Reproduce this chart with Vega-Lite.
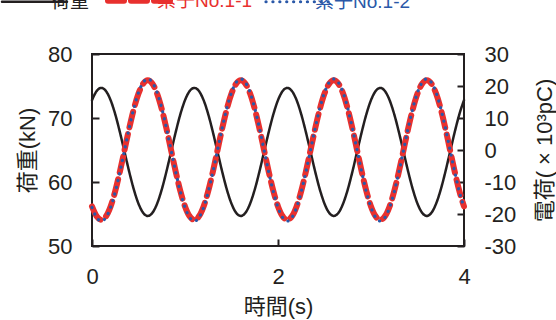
{
  "$schema": "https://vega.github.io/schema/vega-lite/v6.json",
  "width": 372,
  "height": 192,
  "autosize": "none",
  "padding": {"left": 92, "top": 54, "right": 92, "bottom": 74},
  "config": {
    "font": "Liberation Sans, Noto Sans CJK JP, sans-serif",
    "view": {"stroke": "#231f20", "strokeWidth": 2},
    "axis": {
      "grid": false,
      "domain": false,
      "tickSize": -7,
      "tickWidth": 2,
      "tickColor": "#231f20",
      "labelFontSize": 22,
      "labelColor": "#231f20",
      "labelPadding": 27,
      "labelFlush": false,
      "labelOverlap": false,
      "titleFontSize": 22,
      "titleFontWeight": "normal",
      "titleColor": "#231f20"
    }
  },
  "data": {
    "values": [
      {"t": 0, "load": 72.79, "c1": -17.64, "c2": -17.96},
      {"t": 0.05, "load": 74.21, "c1": -20.73, "c2": -21.11},
      {"t": 0.1, "load": 74.7, "c1": -21.8, "c2": -22.2},
      {"t": 0.15, "load": 74.21, "c1": -20.73, "c2": -21.11},
      {"t": 0.2, "load": 72.79, "c1": -17.64, "c2": -17.96},
      {"t": 0.25, "load": 70.58, "c1": -12.82, "c2": -13.05},
      {"t": 0.3, "load": 67.79, "c1": -6.74, "c2": -6.86},
      {"t": 0.35, "load": 64.7, "c1": 0, "c2": 0},
      {"t": 0.4, "load": 61.61, "c1": 6.74, "c2": 6.86},
      {"t": 0.45, "load": 58.82, "c1": 12.82, "c2": 13.05},
      {"t": 0.5, "load": 56.61, "c1": 17.64, "c2": 17.96},
      {"t": 0.55, "load": 55.19, "c1": 20.73, "c2": 21.11},
      {"t": 0.6, "load": 54.7, "c1": 21.8, "c2": 22.2},
      {"t": 0.65, "load": 55.19, "c1": 20.73, "c2": 21.11},
      {"t": 0.7, "load": 56.61, "c1": 17.64, "c2": 17.96},
      {"t": 0.75, "load": 58.82, "c1": 12.82, "c2": 13.05},
      {"t": 0.8, "load": 61.61, "c1": 6.74, "c2": 6.86},
      {"t": 0.85, "load": 64.7, "c1": 0, "c2": 0},
      {"t": 0.9, "load": 67.79, "c1": -6.74, "c2": -6.86},
      {"t": 0.95, "load": 70.58, "c1": -12.82, "c2": -13.05},
      {"t": 1, "load": 72.79, "c1": -17.64, "c2": -17.96},
      {"t": 1.05, "load": 74.21, "c1": -20.73, "c2": -21.11},
      {"t": 1.1, "load": 74.7, "c1": -21.8, "c2": -22.2},
      {"t": 1.15, "load": 74.21, "c1": -20.73, "c2": -21.11},
      {"t": 1.2, "load": 72.79, "c1": -17.64, "c2": -17.96},
      {"t": 1.25, "load": 70.58, "c1": -12.82, "c2": -13.05},
      {"t": 1.3, "load": 67.79, "c1": -6.74, "c2": -6.86},
      {"t": 1.35, "load": 64.7, "c1": 0, "c2": 0},
      {"t": 1.4, "load": 61.61, "c1": 6.74, "c2": 6.86},
      {"t": 1.45, "load": 58.82, "c1": 12.82, "c2": 13.05},
      {"t": 1.5, "load": 56.61, "c1": 17.64, "c2": 17.96},
      {"t": 1.55, "load": 55.19, "c1": 20.73, "c2": 21.11},
      {"t": 1.6, "load": 54.7, "c1": 21.8, "c2": 22.2},
      {"t": 1.65, "load": 55.19, "c1": 20.73, "c2": 21.11},
      {"t": 1.7, "load": 56.61, "c1": 17.64, "c2": 17.96},
      {"t": 1.75, "load": 58.82, "c1": 12.82, "c2": 13.05},
      {"t": 1.8, "load": 61.61, "c1": 6.74, "c2": 6.86},
      {"t": 1.85, "load": 64.7, "c1": 0, "c2": 0},
      {"t": 1.9, "load": 67.79, "c1": -6.74, "c2": -6.86},
      {"t": 1.95, "load": 70.58, "c1": -12.82, "c2": -13.05},
      {"t": 2, "load": 72.79, "c1": -17.64, "c2": -17.96},
      {"t": 2.05, "load": 74.21, "c1": -20.73, "c2": -21.11},
      {"t": 2.1, "load": 74.7, "c1": -21.8, "c2": -22.2},
      {"t": 2.15, "load": 74.21, "c1": -20.73, "c2": -21.11},
      {"t": 2.2, "load": 72.79, "c1": -17.64, "c2": -17.96},
      {"t": 2.25, "load": 70.58, "c1": -12.82, "c2": -13.05},
      {"t": 2.3, "load": 67.79, "c1": -6.74, "c2": -6.86},
      {"t": 2.35, "load": 64.7, "c1": 0, "c2": 0},
      {"t": 2.4, "load": 61.61, "c1": 6.74, "c2": 6.86},
      {"t": 2.45, "load": 58.82, "c1": 12.82, "c2": 13.05},
      {"t": 2.5, "load": 56.61, "c1": 17.64, "c2": 17.96},
      {"t": 2.55, "load": 55.19, "c1": 20.73, "c2": 21.11},
      {"t": 2.6, "load": 54.7, "c1": 21.8, "c2": 22.2},
      {"t": 2.65, "load": 55.19, "c1": 20.73, "c2": 21.11},
      {"t": 2.7, "load": 56.61, "c1": 17.64, "c2": 17.96},
      {"t": 2.75, "load": 58.82, "c1": 12.82, "c2": 13.05},
      {"t": 2.8, "load": 61.61, "c1": 6.74, "c2": 6.86},
      {"t": 2.85, "load": 64.7, "c1": 0, "c2": 0},
      {"t": 2.9, "load": 67.79, "c1": -6.74, "c2": -6.86},
      {"t": 2.95, "load": 70.58, "c1": -12.82, "c2": -13.05},
      {"t": 3, "load": 72.79, "c1": -17.64, "c2": -17.96},
      {"t": 3.05, "load": 74.21, "c1": -20.73, "c2": -21.11},
      {"t": 3.1, "load": 74.7, "c1": -21.8, "c2": -22.2},
      {"t": 3.15, "load": 74.21, "c1": -20.73, "c2": -21.11},
      {"t": 3.2, "load": 72.79, "c1": -17.64, "c2": -17.96},
      {"t": 3.25, "load": 70.58, "c1": -12.82, "c2": -13.05},
      {"t": 3.3, "load": 67.79, "c1": -6.74, "c2": -6.86},
      {"t": 3.35, "load": 64.7, "c1": 0, "c2": 0},
      {"t": 3.4, "load": 61.61, "c1": 6.74, "c2": 6.86},
      {"t": 3.45, "load": 58.82, "c1": 12.82, "c2": 13.05},
      {"t": 3.5, "load": 56.61, "c1": 17.64, "c2": 17.96},
      {"t": 3.55, "load": 55.19, "c1": 20.73, "c2": 21.11},
      {"t": 3.6, "load": 54.7, "c1": 21.8, "c2": 22.2},
      {"t": 3.65, "load": 55.19, "c1": 20.73, "c2": 21.11},
      {"t": 3.7, "load": 56.61, "c1": 17.64, "c2": 17.96},
      {"t": 3.75, "load": 58.82, "c1": 12.82, "c2": 13.05},
      {"t": 3.8, "load": 61.61, "c1": 6.74, "c2": 6.86},
      {"t": 3.85, "load": 64.7, "c1": 0, "c2": 0},
      {"t": 3.9, "load": 67.79, "c1": -6.74, "c2": -6.86},
      {"t": 3.95, "load": 70.58, "c1": -12.82, "c2": -13.05},
      {"t": 4, "load": 72.79, "c1": -17.64, "c2": -17.96}
    ]
  },
  "layer": [
    {
      "mark": {"type": "line", "interpolate": "monotone", "strokeCap": "round", "strokeWidth": 2.5},
      "encoding": {
        "x": {
          "field": "t", "type": "quantitative",
          "scale": {"domain": [0, 4], "nice": false},
          "axis": {"values": [0, 2, 4], "format": "d", "title": "時間(s)", "titlePadding": 9}
        },
        "y": {
          "field": "load", "type": "quantitative",
          "scale": {"domain": [50, 80], "nice": false},
          "axis": {"orient": "left", "values": [50, 60, 70, 80], "title": "荷重(kN)", "titlePadding": 8}
        },
        "color": {
          "datum": "荷重", "type": "nominal",
          "scale": {"domain": ["荷重", "素子No.1-1", "素子No.1-2"], "range": ["#231f20", "#e8302e", "#2a58a8"]},
          "legend": {
            "orient": "none", "legendX": -67, "legendY": -63,
            "direction": "horizontal", "title": null,
            "symbolType": "stroke", "symbolSize": 4225,
            "labelFontSize": 19, "labelOffset": 7, "columnPadding": 6, "padding": 0,
            "encode": {
              "symbols": {"update": {
                "strokeCap": {"value": "round"},
                "strokeWidth": {"signal": "datum.value === '荷重' ? 2.5 : datum.value === '素子No.1-1' ? 6 : 3.2"}
              }},
              "labels": {"update": {"fill": {"signal": "datum.value === '荷重' ? '#231f20' : datum.value === '素子No.1-1' ? '#e8302e' : '#2a58a8'"}}}
            }
          }
        },
        "strokeDash": {
          "datum": "荷重", "type": "nominal",
          "scale": {"domain": ["荷重", "素子No.1-1", "素子No.1-2"], "range": [[1, 0], [16, 7], [0.1, 6.8]]}
        }
      }
    },
    {
      "encoding": {
        "x": {"field": "t", "type": "quantitative", "scale": {"domain": [0, 4], "nice": false}}
      },
      "layer": [
        {
          "mark": {"type": "line", "interpolate": "monotone", "strokeCap": "round", "strokeWidth": 6},
          "encoding": {
            "y": {
              "field": "c1", "type": "quantitative",
              "scale": {"domain": [-30, 30], "nice": false},
              "axis": {
                "orient": "right", "values": [-30, -20, -10, 0, 10, 20, 30],
                "labelExpr": "'' + datum.value", "labelOverlap": false, "labelFlush": false,
                "title": "電荷( × 10³pC)", "titleAngle": 270, "titlePadding": 41
              }
            },
            "color": {"datum": "素子No.1-1", "type": "nominal"},
            "strokeDash": {"datum": "素子No.1-1", "type": "nominal"}
          }
        },
        {
          "mark": {"type": "line", "interpolate": "monotone", "strokeCap": "round", "strokeWidth": 3.2},
          "encoding": {
            "y": {
              "field": "c2", "type": "quantitative",
              "scale": {"domain": [-30, 30], "nice": false},
              "axis": {
                "orient": "right", "values": [-30, -20, -10, 0, 10, 20, 30],
                "labelExpr": "'' + datum.value", "labelOverlap": false, "labelFlush": false,
                "title": "電荷( × 10³pC)", "titleAngle": 270, "titlePadding": 41
              }
            },
            "color": {"datum": "素子No.1-2", "type": "nominal"},
            "strokeDash": {"datum": "素子No.1-2", "type": "nominal"}
          }
        }
      ]
    }
  ],
  "resolve": {"scale": {"y": "independent"}}
}
